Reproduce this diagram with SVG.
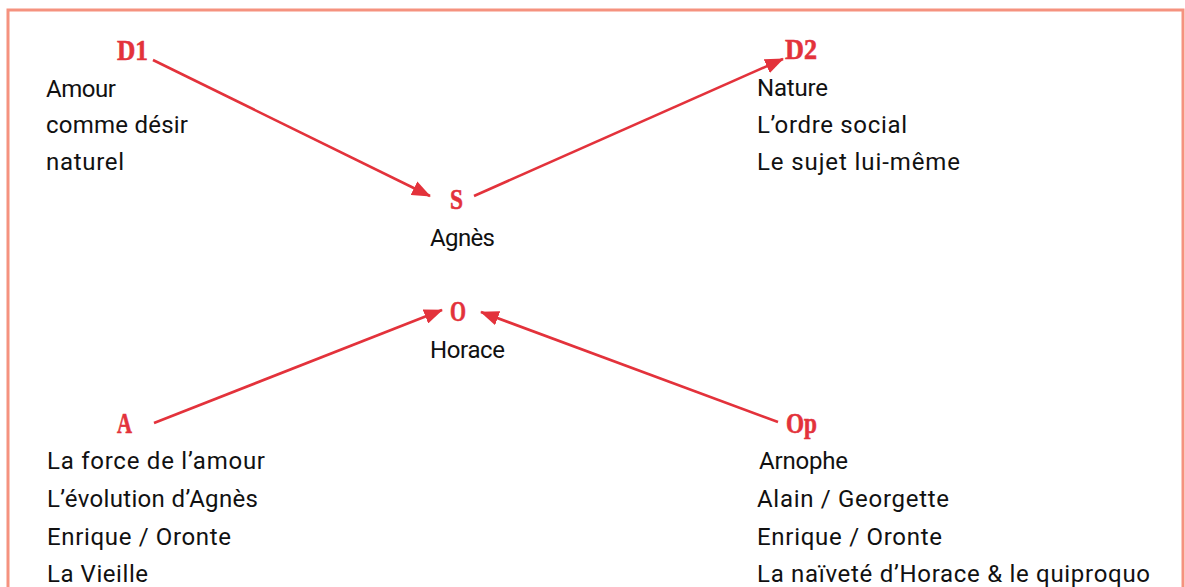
<svg xmlns="http://www.w3.org/2000/svg" width="1185" height="587" viewBox="0 0 1185 587">
<style>
.lbl{font-family:"Liberation Serif","DejaVu Serif",serif;font-weight:bold;font-size:29px;fill:#e3323b;stroke:#e3323b;stroke-width:0.6}
.t{font-family:Roboto,"Liberation Sans",sans-serif;font-size:24px;font-weight:400;fill:#111}
.c{stroke:#e3323b;stroke-width:2.6;fill:none}
</style>
<defs>
<marker id="ah" viewBox="0 0 10 8" refX="9.5" refY="4" markerWidth="7.2" markerHeight="5.8" markerUnits="strokeWidth" orient="auto">
<path d="M0,0 L10,4 L0,8 Z" fill="#e3323b"/>
</marker>
</defs>
<rect width="1185" height="587" fill="#fff"/>
<path d="M8,600 L8,10 L1183,10 L1183,600" fill="none" stroke="#f5927f" stroke-width="3"/>
<g id="connectors">
<line class="c" x1="153" y1="60" x2="430" y2="196" marker-end="url(#ah)"/>
<line class="c" x1="474" y1="196" x2="783" y2="59" marker-end="url(#ah)"/>
<line class="c" x1="154" y1="423" x2="442" y2="310" marker-end="url(#ah)"/>
<line class="c" x1="778" y1="422" x2="481" y2="312" marker-end="url(#ah)"/>
</g>
<g id="D1">
<text class="lbl" x="117" y="60" textLength="31" lengthAdjust="spacingAndGlyphs">D1</text>
<text class="t" x="46" y="97" textLength="70" lengthAdjust="spacing">Amour</text>
<text class="t" x="46" y="133" textLength="142" lengthAdjust="spacing">comme désir</text>
<text class="t" x="46" y="170" textLength="78" lengthAdjust="spacing">naturel</text>
</g>
<g id="D2">
<text class="lbl" x="785" y="59" textLength="32" lengthAdjust="spacingAndGlyphs">D2</text>
<text class="t" x="757" y="96" textLength="71" lengthAdjust="spacing">Nature</text>
<text class="t" x="757" y="133" textLength="150" lengthAdjust="spacing">L’ordre social</text>
<text class="t" x="757" y="170" textLength="203" lengthAdjust="spacing">Le sujet lui-même</text>
</g>
<g id="S">
<text class="lbl" x="450" y="209" textLength="13" lengthAdjust="spacingAndGlyphs">S</text>
<text class="t" x="430" y="246" textLength="65" lengthAdjust="spacing">Agnès</text>
</g>
<g id="O">
<text class="lbl" x="450" y="321" textLength="16" lengthAdjust="spacingAndGlyphs">O</text>
<text class="t" x="430" y="358" textLength="75" lengthAdjust="spacing">Horace</text>
</g>
<g id="A">
<text class="lbl" x="117" y="433" textLength="15" lengthAdjust="spacingAndGlyphs">A</text>
<text class="t" x="47" y="469" textLength="218" lengthAdjust="spacing">La force de l’amour</text>
<text class="t" x="47" y="507" textLength="211" lengthAdjust="spacing">L’évolution d’Agnès</text>
<text class="t" x="47" y="545" textLength="184" lengthAdjust="spacing">Enrique / Oronte</text>
<text class="t" x="47" y="582" textLength="101" lengthAdjust="spacing">La Vieille</text>
</g>
<g id="Op">
<text class="lbl" x="786" y="433" textLength="31" lengthAdjust="spacingAndGlyphs">Op</text>
<text class="t" x="759" y="469" textLength="89" lengthAdjust="spacing">Arnophe</text>
<text class="t" x="757" y="507" textLength="192" lengthAdjust="spacing">Alain / Georgette</text>
<text class="t" x="757" y="545" textLength="185" lengthAdjust="spacing">Enrique / Oronte</text>
<text class="t" x="757" y="582" textLength="393" lengthAdjust="spacing">La naïveté d’Horace &amp; le quiproquo</text>
</g>
</svg>
